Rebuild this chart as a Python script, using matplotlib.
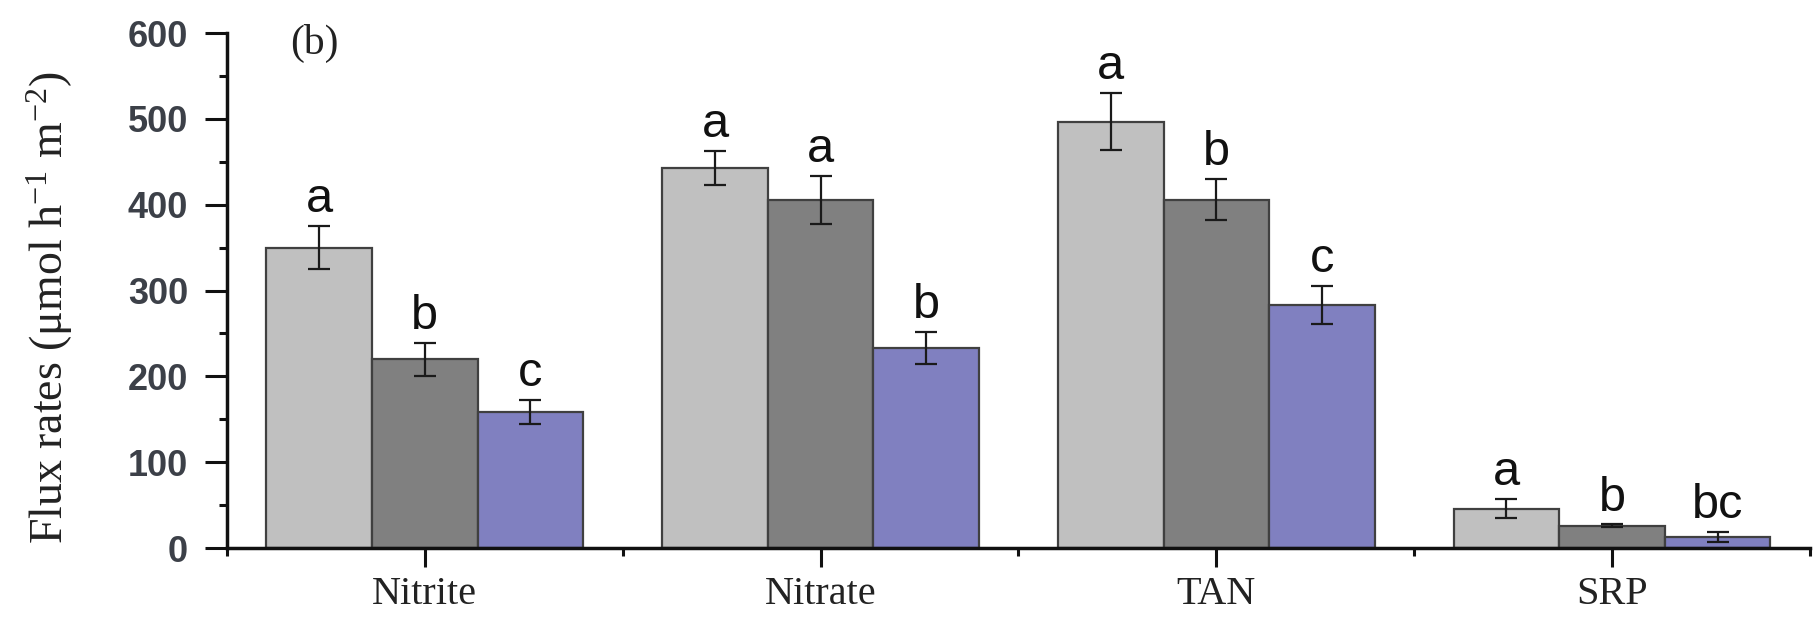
import matplotlib
matplotlib.use("Agg")
import matplotlib.pyplot as plt
import numpy as np
from matplotlib.ticker import MultipleLocator, FixedLocator

plt.rcParams['mathtext.fontset'] = 'custom'
plt.rcParams['mathtext.rm'] = 'Liberation Serif'
plt.rcParams['mathtext.it'] = 'Liberation Serif:italic'

categories = ["Nitrite", "Nitrate", "TAN", "SRP"]
series1 = [350, 443, 497, 46]
series1_err = [25, 19.5, 33, 11]
series2 = [220, 406, 406, 26]
series2_err = [19.5, 28, 24, 1.5]
series3 = [159, 233, 283, 13]
series3_err = [14, 19, 22, 6]
letters1 = ["a", "a", "a", "a"]
letters2 = ["b", "a", "b", "b"]
letters3 = ["c", "b", "c", "bc"]
colors = ["#c0c0c0", "#808080", "#8080c0"]

fig = plt.figure(figsize=(18.17, 6.26), dpi=100)
ax = fig.add_axes([0.1249, 0.1246, 0.9961 - 0.1249, 0.947 - 0.1246])

x = np.arange(len(categories))
w = 0.2667
offsets = [-w, 0, w]
allvals = [series1, series2, series3]
allerr = [series1_err, series2_err, series3_err]
allletters = [letters1, letters2, letters3]

for vals, errs, lets, off, col in zip(allvals, allerr, allletters, offsets, colors):
    ax.bar(x + off, vals, width=w, color=col, edgecolor="#404040", linewidth=1.6, zorder=2)
    ax.errorbar(x + off, vals, yerr=errs, fmt="none", ecolor="#1a1a1a",
                elinewidth=1.6, capsize=8, capthick=1.6, zorder=3)
    for xi, v, e, l in zip(x + off, vals, errs, lets):
        ax.annotate(l, xy=(xi, v + e), xytext=(0, 10), textcoords="offset points",
                    ha="center", va="baseline", fontsize=35,
                    family="Liberation Sans", color="#111111", zorder=4)

ax.set_xlim(-0.5, 3.5)
ax.set_ylim(0, 600)

for s in ["top", "right"]:
    ax.spines[s].set_visible(False)
for s in ["left", "bottom"]:
    ax.spines[s].set_linewidth(2.5)
    ax.spines[s].set_color("#111111")

ax.set_xticks(x)
ax.set_xticklabels(categories, family="Liberation Serif", fontsize=29, color="#222222")
ax.xaxis.set_minor_locator(FixedLocator([-0.5, 0.5, 1.5, 2.5, 3.5]))
ax.yaxis.set_major_locator(MultipleLocator(100))
ax.yaxis.set_minor_locator(MultipleLocator(50))
ax.tick_params(axis="y", which="major", length=16, width=2.2, direction="out",
               labelsize=26, pad=12, colors="#111111", labelcolor="#3c4048")
ax.tick_params(axis="y", which="minor", length=6, width=2.2, direction="out", colors="#111111")
ax.tick_params(axis="x", which="major", length=14, width=2.2, direction="out", pad=6, colors="#111111")
ax.tick_params(axis="x", which="minor", length=6, width=2.2, direction="out", colors="#111111")
for lab in ax.get_yticklabels():
    lab.set_family("Liberation Sans")
    lab.set_fontweight("bold")
for lab in ax.get_xticklabels():
    lab.set_color("#222222")

ax.set_ylabel(r"Flux rates (μmol h$^{\mathrm{-1}}$ m$^{\mathrm{-2}}$)",
              family="Liberation Serif", fontsize=33, color="#222222")
ax.yaxis.set_label_coords(-0.096, 0.467)

ax.text(0.055, 0.98, "(b)", transform=ax.transAxes, family="Liberation Serif",
        fontsize=30, ha="center", va="center", color="#222222")

fig.savefig("out.png", dpi=100)
